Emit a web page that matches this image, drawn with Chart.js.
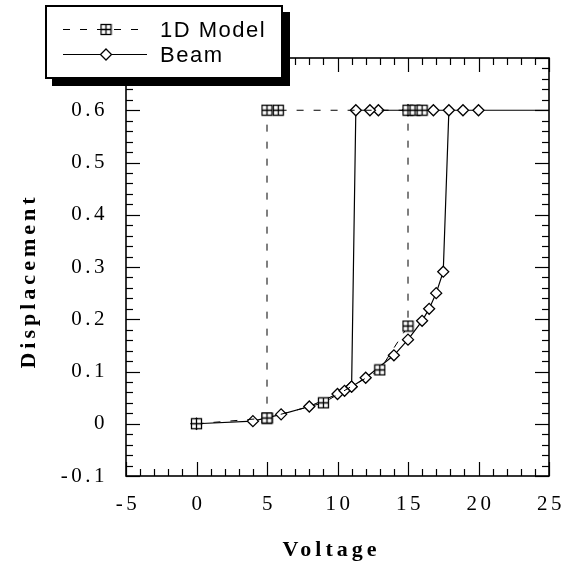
<!DOCTYPE html>
<html><head><meta charset="utf-8">
<script src="https://cdn.jsdelivr.net/npm/chart.js@4/dist/chart.umd.min.js"></script>
<style>html,body{margin:0;padding:0;background:#fff}</style>
</head><body>
<canvas id="c" width="576" height="567"></canvas>
<script>
// ---- data ----
const seriesNames = ['1D Model', 'Beam'];
const modelVoltage = [0, 5, 9, 13, 15, 15, 15.5, 16, 5.8, 5, 5];
const modelDisp    = [0, 0.011, 0.04, 0.103, 0.187, 0.6, 0.6, 0.6, 0.6, 0.6, 0.011];
const beamVoltage  = [0, 4, 6, 8, 10, 10.5, 11, 12, 14, 15, 16, 16.5, 17, 17.5, 17.9, 18.9, 20, 25, 16.8, 15, 12.9, 12.3, 11.3, 11];
const beamDisp     = [0, 0.005, 0.018, 0.033, 0.057, 0.063, 0.071, 0.088, 0.131, 0.161, 0.197, 0.22, 0.25, 0.291, 0.6, 0.6, 0.6, 0.6, 0.6, 0.6, 0.6, 0.6, 0.6, 0.071];
const beamMarkerShown = [1,1,1,1,1,1,1,1,1,1,1,1,1,1,1,1,1,0,1,1,1,1,1,1];
const xTickLabels = [-5, 0, 5, 10, 15, 20, 25];
const yTickLabels = [-0.1, 0, 0.1, 0.2, 0.3, 0.4, 0.5, 0.6];
const xTitle = 'Voltage';
const yTitle = 'Displacement';

function toPoints(xs, ys){ return xs.map((x,i)=>({x:x, y:ys[i]})); }

function makeSquareMarker(){
  const c = document.createElement('canvas');
  c.width = 13; c.height = 13;
  const g = c.getContext('2d');
  g.fillStyle = '#fff'; g.fillRect(1.5,1.5,10,10);
  g.strokeStyle = '#000'; g.lineWidth = 1.3;
  g.strokeRect(1.5,1.5,10,10);
  g.beginPath(); g.moveTo(6.5,1.5); g.lineTo(6.5,11.5); g.moveTo(1.5,6.5); g.lineTo(11.5,6.5); g.stroke();
  return c;
}
const squareMarker = makeSquareMarker();

const SERIF = "'Liberation Serif','Times New Roman',serif";
const SANS = "'Liberation Sans',Arial,sans-serif";

const decor = {
  id: 'decor',
  beforeDraw(chart){ chart.ctx.letterSpacing = '3.5px'; },
  afterDraw(chart){
    const ctx = chart.ctx, a = chart.chartArea, xs = chart.scales.x, ys = chart.scales.y;
    ctx.save();
    ctx.letterSpacing = '0px';
    ctx.strokeStyle = '#000';
    ctx.lineWidth = 1.2;
    ctx.setLineDash([]);
    const line = (x1,y1,x2,y2)=>{ ctx.beginPath(); ctx.moveTo(x1,y1); ctx.lineTo(x2,y2); ctx.stroke(); };
    // inward ticks, minor every 1 V / 0.02
    const xMin = xTickLabels[0], xMax = xTickLabels[xTickLabels.length-1];
    for (let v = xMin; v <= xMax; v++) {
      const px = Math.round(xs.getPixelForValue(v)) + 0.5;
      const L = (v % 5 === 0) ? 14 : 7;
      line(px, a.bottom, px, a.bottom - L);
      line(px, a.top, px, a.top + L);
    }
    for (let i = -5; i <= 35; i++) {
      const py = Math.round(ys.getPixelForValue(i * 0.02)) + 0.5;
      const L = (i % 5 === 0) ? 14 : 7;
      line(a.left, py, a.left + L, py);
      line(a.right, py, a.right - L, py);
    }
    ctx.lineWidth = 1.6;
    ctx.strokeRect(a.left, a.top, a.right - a.left, a.bottom - a.top);

    // axis titles
    ctx.fillStyle = '#000';
    ctx.font = "bold 22px " + SERIF;
    ctx.letterSpacing = '4px';
    ctx.textAlign = 'center';
    ctx.textBaseline = 'alphabetic';
    ctx.fillText(xTitle, (a.left + a.right)/2 - 6, 556);
    ctx.save();
    ctx.translate(35, 281);
    ctx.rotate(-Math.PI/2);
    ctx.fillText(yTitle, 0, 0);
    ctx.restore();

    // legend box with drop shadow
    const bx = 45, by = 5, bw = 238, bh = 74;
    ctx.fillStyle = '#000';
    ctx.fillRect(bx + 7, by + 7, bw, bh);
    ctx.fillStyle = '#fff';
    ctx.fillRect(bx, by, bw, bh);
    ctx.lineWidth = 2;
    ctx.strokeStyle = '#000';
    ctx.strokeRect(bx + 1, by + 1, bw - 2, bh - 2);
    const rows = [29, 54];
    chart.data.datasets.forEach((ds, i) => {
      const y = rows[i] + 0.5;
      ctx.save();
      ctx.lineWidth = 1;
      ctx.setLineDash(ds.borderDash || []);
      line(63, y, 147, y);
      ctx.restore();
      if (ds.pointStyle && typeof ds.pointStyle === 'object') {
        ctx.drawImage(ds.pointStyle, 106 - 6.5, y - 6.5);
      } else {
        ctx.beginPath();
        ctx.moveTo(106, y - 5.5); ctx.lineTo(111.5, y); ctx.lineTo(106, y + 5.5); ctx.lineTo(100.5, y); ctx.closePath();
        ctx.fillStyle = '#fff'; ctx.fill();
        ctx.lineWidth = 1.3; ctx.stroke();
      }
      ctx.fillStyle = '#000';
      ctx.font = "22px " + SANS;
      ctx.letterSpacing = '1.5px';
      ctx.textAlign = 'left';
      ctx.textBaseline = 'alphabetic';
      ctx.fillText(ds.label, 160, rows[i] + 7.5);
      ctx.letterSpacing = '0px';
    });
    ctx.restore();
  }
};

new Chart(document.getElementById('c'), {
  type: 'scatter',
  data: {
    datasets: [
      {
        label: seriesNames[0],
        data: toPoints(modelVoltage, modelDisp),
        showLine: true,
        borderColor: '#000',
        borderWidth: 1,
        borderDash: [7, 10],
        pointStyle: squareMarker,
        pointRadius: 6,
        pointHoverRadius: 6
      },
      {
        label: seriesNames[1],
        data: toPoints(beamVoltage, beamDisp),
        showLine: true,
        borderColor: '#000',
        borderWidth: 1.2,
        pointStyle: 'rectRot',
        pointRadius: beamMarkerShown.map(s => s ? 5.5 : 0),
        pointHoverRadius: 5.5,
        pointBackgroundColor: '#fff',
        pointBorderColor: '#000',
        pointBorderWidth: 1.3
      }
    ]
  },
  options: {
    responsive: false,
    animation: false,
    devicePixelRatio: 1,
    layout: { padding: { top: 58, right: 27, left: 0, bottom: 0 } },
    plugins: { legend: { display: false }, tooltip: { enabled: false } },
    scales: {
      x: {
        type: 'linear',
        min: xTickLabels[0], max: xTickLabels[xTickLabels.length-1],
        afterFit: s => { s.height = 91; },
        afterBuildTicks: s => { s.ticks = xTickLabels.map(v => ({ value: v })); },
        ticks: {
          autoSkip: false, maxRotation: 0, padding: 16, labelOffset: 2,
          color: '#000', font: { family: SERIF, size: 21 },
          callback: v => String(v)
        },
        grid: { display: false, drawTicks: false },
        border: { display: false }
      },
      y: {
        type: 'linear',
        min: -0.1, max: 0.7,
        afterFit: s => { s.width = 126; },
        afterBuildTicks: s => { s.ticks = yTickLabels.map(v => ({ value: v })); },
        ticks: {
          autoSkip: false, padding: 18,
          color: '#000', font: { family: SERIF, size: 21 },
          callback: v => String(Math.round(v * 10) / 10)
        },
        grid: { display: false, drawTicks: false },
        border: { display: false }
      }
    }
  },
  plugins: [decor]
});
</script>
</body></html>
